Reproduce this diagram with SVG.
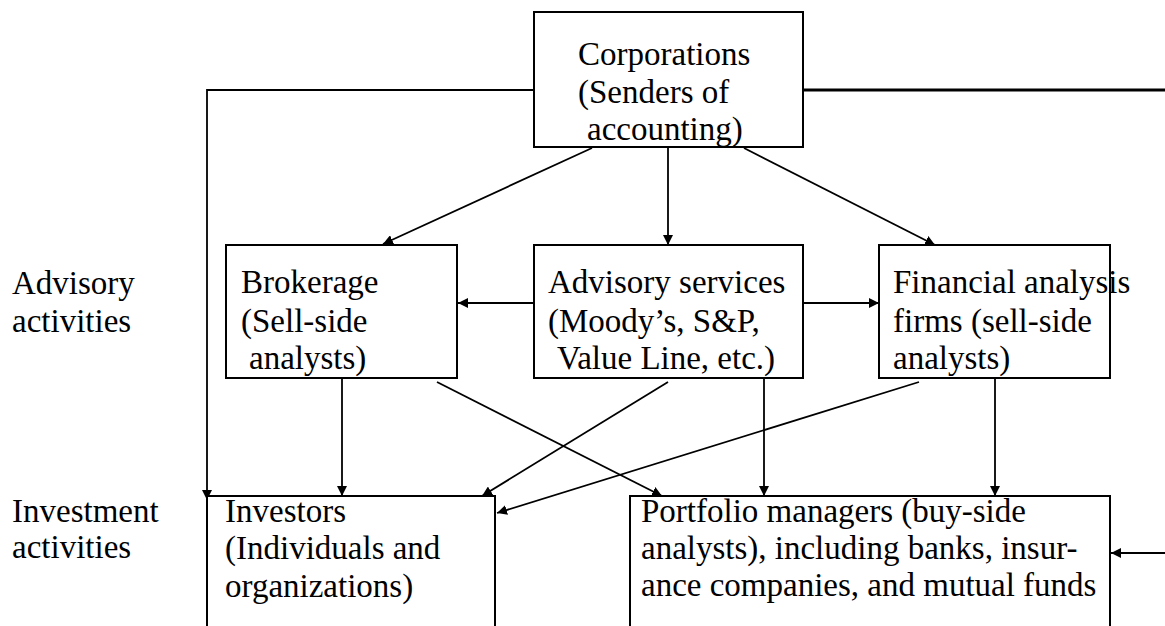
<svg xmlns="http://www.w3.org/2000/svg" width="1165" height="626" viewBox="0 0 1165 626">
  <style>
    .box { fill: #fff; stroke: #000; stroke-width: 2; }
    .lbl { font-family: "Liberation Serif", "Times New Roman", serif; font-size: 33px; fill: #000; }
    .conn { fill: none; stroke: #000; stroke-width: 1.8; }
    .thick { fill: none; stroke: #000; stroke-width: 3; }
  </style>
  <defs>
    <marker id="arrow" markerUnits="userSpaceOnUse" markerWidth="11" markerHeight="10" refX="10" refY="5" orient="auto">
      <path d="M0,0 L10,5 L0,10 z" fill="#000"/>
    </marker>
  </defs>

  <rect width="1165" height="626" fill="#fff"/>

  <!-- row labels -->
  <g id="row-labels">
    <text class="lbl" x="12" y="294">Advisory</text>
    <text class="lbl" x="12" y="332">activities</text>
    <text class="lbl" x="12" y="522">Investment</text>
    <text class="lbl" x="12" y="558">activities</text>
  </g>

  <!-- connectors -->
  <g id="connectors">
    <polyline class="conn" points="534,90 207,90 207,500" marker-end="url(#arrow)"/>
    <line class="thick" x1="803" y1="90" x2="1165" y2="90"/>
    <line class="conn" x1="1165" y1="553" x2="1111" y2="553" marker-end="url(#arrow)"/>

    <line class="conn" x1="592" y1="148" x2="383" y2="244" marker-end="url(#arrow)"/>
    <line class="conn" x1="668" y1="148" x2="668" y2="245" marker-end="url(#arrow)"/>
    <line class="conn" x1="744" y1="148" x2="935" y2="245" marker-end="url(#arrow)"/>

    <line class="conn" x1="534" y1="303" x2="458" y2="303" marker-end="url(#arrow)"/>
    <line class="conn" x1="803" y1="303" x2="879" y2="303" marker-end="url(#arrow)"/>

    <line class="conn" x1="342" y1="379" x2="342" y2="496" marker-end="url(#arrow)"/>
    <line class="conn" x1="437" y1="382" x2="662" y2="496" marker-end="url(#arrow)"/>
    <line class="conn" x1="668" y1="382" x2="482" y2="496" marker-end="url(#arrow)"/>
    <line class="conn" x1="764" y1="379" x2="764" y2="496" marker-end="url(#arrow)"/>
    <line class="conn" x1="919" y1="382" x2="497" y2="513" marker-end="url(#arrow)"/>
    <line class="conn" x1="995" y1="379" x2="995" y2="496" marker-end="url(#arrow)"/>
  </g>

  <g id="corporations">
    <rect class="box" x="534" y="12" width="269" height="135"/>
    <text class="lbl" x="578" y="65">Corporations</text>
    <text class="lbl" x="578" y="103">(Senders of</text>
    <text class="lbl" x="587" y="140">accounting)</text>
  </g>

  <g id="brokerage">
    <rect class="box" x="226" y="245" width="231" height="133"/>
    <text class="lbl" x="241" y="293">Brokerage</text>
    <text class="lbl" x="241" y="332">(Sell-side</text>
    <text class="lbl" x="249" y="369">analysts)</text>
  </g>

  <g id="advisory-services">
    <rect class="box" x="534" y="245" width="269" height="133"/>
    <text class="lbl" x="548" y="293">Advisory services</text>
    <text class="lbl" x="548" y="332">(Moody’s, S&amp;P,</text>
    <text class="lbl" x="557" y="369">Value Line, etc.)</text>
  </g>

  <g id="financial-analysis">
    <rect class="box" x="879" y="245" width="231" height="133"/>
    <text class="lbl" x="893" y="293">Financial analysis</text>
    <text class="lbl" x="893" y="332">firms (sell-side</text>
    <text class="lbl" x="893" y="369">analysts)</text>
  </g>

  <g id="investors">
    <rect class="box" x="207" y="496" width="288" height="160"/>
    <text class="lbl" x="225" y="522">Investors</text>
    <text class="lbl" x="225" y="559">(Individuals and</text>
    <text class="lbl" x="225" y="597">organizations)</text>
  </g>

  <g id="portfolio-managers">
    <rect class="box" x="630" y="496" width="480" height="160"/>
    <text class="lbl" x="641" y="522">Portfolio managers (buy-side</text>
    <text class="lbl" x="641" y="559">analysts), including banks, insur-</text>
    <text class="lbl" x="641" y="596">ance companies, and mutual funds</text>
  </g>
</svg>
